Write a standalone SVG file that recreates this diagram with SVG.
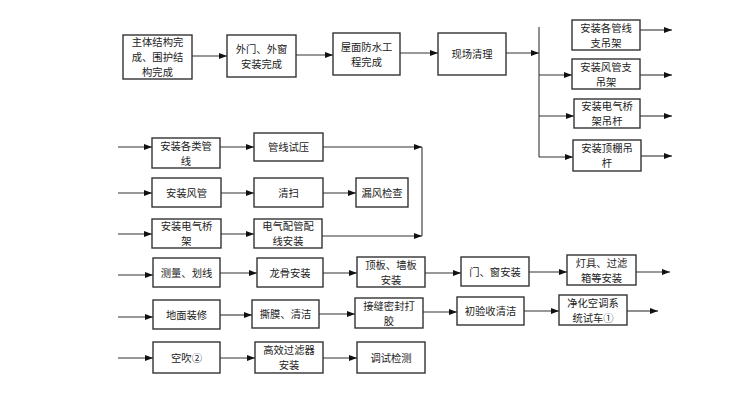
<svg xmlns="http://www.w3.org/2000/svg" width="750" height="400" viewBox="0 0 750 400">
<defs>
<marker id="ah" markerUnits="userSpaceOnUse" markerWidth="8" markerHeight="6" refX="8" refY="3" orient="auto">
<path d="M0,0 L8,3 L0,6 z" fill="#111"/>
</marker>
<style>
rect{fill:#fff;stroke:#333;stroke-width:1.4}
text{font-family:"Noto Sans CJK SC","Liberation Sans",sans-serif;font-size:10.3px;fill:#222;text-anchor:middle}
#connectors line{stroke:#333;stroke-width:1.1}
.a{marker-end:url(#ah)}
</style>
</defs>
<rect x="0" y="0" width="750" height="400" style="fill:#fff;stroke:none"/>
<g id="connectors">
<line class="a" x1="192" y1="56" x2="227" y2="56"/>
<line class="a" x1="296" y1="55" x2="333" y2="55"/>
<line class="a" x1="400" y1="53" x2="438" y2="53"/>
<line class="a" x1="506" y1="53" x2="539" y2="53"/>
<line x1="539" y1="27" x2="539" y2="157"/>
<line class="a" x1="539" y1="75" x2="572" y2="75"/>
<line class="a" x1="539" y1="116" x2="574" y2="116"/>
<line class="a" x1="539" y1="157" x2="573" y2="157"/>
<line class="a" x1="640" y1="30" x2="672" y2="30"/>
<line class="a" x1="640" y1="75" x2="672" y2="75"/>
<line class="a" x1="640" y1="116" x2="672" y2="116"/>
<line class="a" x1="641" y1="156" x2="672" y2="156"/>
<line class="a" x1="118" y1="147" x2="152" y2="147"/>
<line class="a" x1="118" y1="193" x2="152" y2="193"/>
<line class="a" x1="118" y1="234" x2="152" y2="234"/>
<line class="a" x1="220" y1="147" x2="254" y2="147"/>
<line class="a" x1="323" y1="147" x2="422" y2="147"/>
<line class="a" x1="221" y1="193" x2="254" y2="193"/>
<line class="a" x1="323" y1="193" x2="356" y2="193"/>
<line class="a" x1="221" y1="234" x2="254" y2="234"/>
<line class="a" x1="322" y1="236" x2="422" y2="236"/>
<line x1="422" y1="147" x2="422" y2="236"/>
<line class="a" x1="118" y1="275" x2="153" y2="275"/>
<line class="a" x1="220" y1="273" x2="257" y2="273"/>
<line class="a" x1="323" y1="273" x2="357" y2="273"/>
<line class="a" x1="425" y1="273" x2="461" y2="273"/>
<line class="a" x1="529" y1="272" x2="567" y2="272"/>
<line class="a" x1="636" y1="272" x2="670" y2="272"/>
<line class="a" x1="118" y1="317" x2="153" y2="317"/>
<line class="a" x1="220" y1="315" x2="252" y2="315"/>
<line class="a" x1="319" y1="314" x2="355" y2="314"/>
<line class="a" x1="423" y1="312" x2="457" y2="312"/>
<line class="a" x1="524" y1="311" x2="559" y2="311"/>
<line class="a" x1="627" y1="311" x2="658" y2="311"/>
<line class="a" x1="118" y1="358" x2="153" y2="358"/>
<line class="a" x1="220" y1="358" x2="255" y2="358"/>
<line class="a" x1="323" y1="358" x2="357" y2="358"/>
</g>
<g id="n1"><rect x="123" y="35" width="69" height="44"/><text x="157.5" y="46">主体结构完</text><text x="157.5" y="61">成、围护结</text><text x="157.5" y="76">构完成</text></g>
<g id="n2"><rect x="227" y="35" width="69" height="42"/><text x="261.5" y="52.5">外门、外窗</text><text x="261.5" y="67.5">安装完成</text></g>
<g id="n3"><rect x="333" y="33" width="67" height="42"/><text x="366.5" y="50.5">屋面防水工</text><text x="366.5" y="65.5">程完成</text></g>
<g id="n4"><rect x="438" y="33" width="68" height="42"/><text x="472" y="58">现场清理</text></g>
<g id="n5"><rect x="572" y="20" width="68" height="30"/><text x="606" y="31.5">安装各管线</text><text x="606" y="46.5">支吊架</text></g>
<g id="n6"><rect x="572" y="59" width="68" height="30"/><text x="606" y="70.5">安装风管支</text><text x="606" y="85.5">吊架</text></g>
<g id="n7"><rect x="574" y="99" width="66" height="29"/><text x="607" y="110">安装电气桥</text><text x="607" y="125">架吊杆</text></g>
<g id="n8"><rect x="573" y="140" width="68" height="31"/><text x="607" y="152">安装顶棚吊</text><text x="607" y="167">杆</text></g>
<g id="n9"><rect x="152" y="138" width="68" height="30"/><text x="186" y="149.5">安装各类管</text><text x="186" y="164.5">线</text></g>
<g id="n10"><rect x="254" y="133" width="69" height="28"/><text x="288.5" y="151">管线试压</text></g>
<g id="n11"><rect x="152" y="178" width="69" height="29"/><text x="186.5" y="196.5">安装风管</text></g>
<g id="n12"><rect x="254" y="178" width="69" height="29"/><text x="288.5" y="196.5">清扫</text></g>
<g id="n13"><rect x="356" y="178" width="52" height="29"/><text x="382" y="196.5">漏风检查</text></g>
<g id="n14"><rect x="152" y="219" width="69" height="29"/><text x="186.5" y="230">安装电气桥</text><text x="186.5" y="245">架</text></g>
<g id="n15"><rect x="254" y="219" width="68" height="29"/><text x="288" y="230">电气配管配</text><text x="288" y="245">线安装</text></g>
<g id="n16"><rect x="153" y="258" width="67" height="29"/><text x="186.5" y="276.5">测量、划线</text></g>
<g id="n17"><rect x="257" y="258" width="66" height="29"/><text x="290" y="276.5">龙骨安装</text></g>
<g id="n18"><rect x="357" y="257" width="68" height="30"/><text x="391" y="268.5">顶板、墙板</text><text x="391" y="283.5">安装</text></g>
<g id="n19"><rect x="461" y="257" width="68" height="29"/><text x="495" y="275.5">门、窗安装</text></g>
<g id="n20"><rect x="567" y="255" width="69" height="30"/><text x="601.5" y="266.5">灯具、过滤</text><text x="601.5" y="281.5">箱等安装</text></g>
<g id="n21"><rect x="153" y="300" width="67" height="29"/><text x="186.5" y="318.5">地面装修</text></g>
<g id="n22"><rect x="252" y="300" width="67" height="28"/><text x="285.5" y="318">撕膜、清洁</text></g>
<g id="n23"><rect x="355" y="298" width="68" height="30"/><text x="389" y="309.5">接缝密封打</text><text x="389" y="324.5">胶</text></g>
<g id="n24"><rect x="457" y="297" width="67" height="28"/><text x="490.5" y="315">初验收清洁</text></g>
<g id="n25"><rect x="559" y="295" width="68" height="30"/><text x="593" y="306.5">净化空调系</text><text x="593" y="321.5">统试车①</text></g>
<g id="n26"><rect x="153" y="342" width="67" height="31"/><text x="186.5" y="361.5">空吹②</text></g>
<g id="n27"><rect x="255" y="342" width="68" height="31"/><text x="289" y="354">高效过滤器</text><text x="289" y="369">安装</text></g>
<g id="n28"><rect x="357" y="342" width="68" height="31"/><text x="391" y="361.5">调试检测</text></g>
</svg>
